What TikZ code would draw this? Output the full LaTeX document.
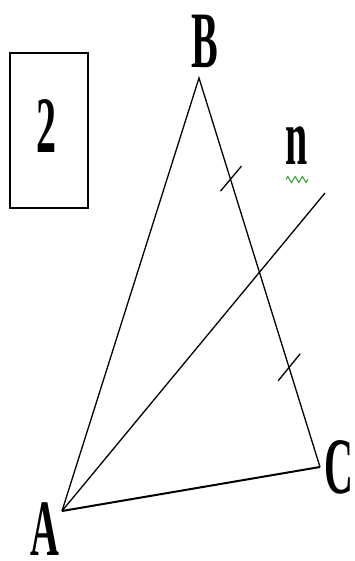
\documentclass[tikz,border=0pt]{standalone}
\usepackage{fontspec}
\setmainfont{Liberation Serif}
\usetikzlibrary{calc,decorations.pathmorphing}
\definecolor{squig}{RGB}{40,160,40}
\newcommand{\stretchlbl}[1]{\scalebox{1}[2]{#1}}
\tikzset{
  lbl/.style={anchor=base, inner sep=0pt, font=\fontsize{40}{40}\selectfont\bfseries},
  edge/.style={line width=1.3pt},
  thickedge/.style={line width=2pt},
  tick/.style={line width=1.3pt},
  frame/.style={draw, line width=1.6pt, minimum width=78pt, minimum height=155pt, inner sep=0pt}
}
\begin{document}
\begin{tikzpicture}[x=1pt,y=-1pt]
\useasboundingbox (0,0) rectangle (354,561);
% vertices
\coordinate (A) at (62,511);
\coordinate (B) at (199,78);
\coordinate (C) at (320,467);
\coordinate (E) at (325,193);
% frame with number
\node[frame] (box) at (49,130.5) {};
\node[lbl] (num) at (46.5,153) {\stretchlbl{2}};
% triangle
\draw[edge] (A) -- (B) -- (C);
\draw[thickedge] (C) -- (A);
% line n
\draw[edge] (A) -- (E);
% equal-segment ticks
\coordinate (t1) at ($(B)!0.26!(C)$);
\coordinate (t2) at ($(B)!0.745!(C)$);
\draw[tick] ([shift={(-10,12)}]t1) -- ([shift={(11,-13)}]t1);
\draw[tick] ([shift={(-11,13)}]t2) -- ([shift={(11,-14)}]t2);
% labels
\node[lbl] (lB) at (205,68) {\stretchlbl{B}};
\node[lbl] (lA) at (45,555) {\stretchlbl{A}};
\node[lbl] (lC) at (339,493) {\stretchlbl{C}};
\node[lbl] (ln) at (297,165) {\stretchlbl{n}};
\draw[squig, line width=1pt, decorate, decoration={zigzag, segment length=7.3pt, amplitude=3pt}] (286,179.5) -- (308,179.5);
\end{tikzpicture}
\end{document}
